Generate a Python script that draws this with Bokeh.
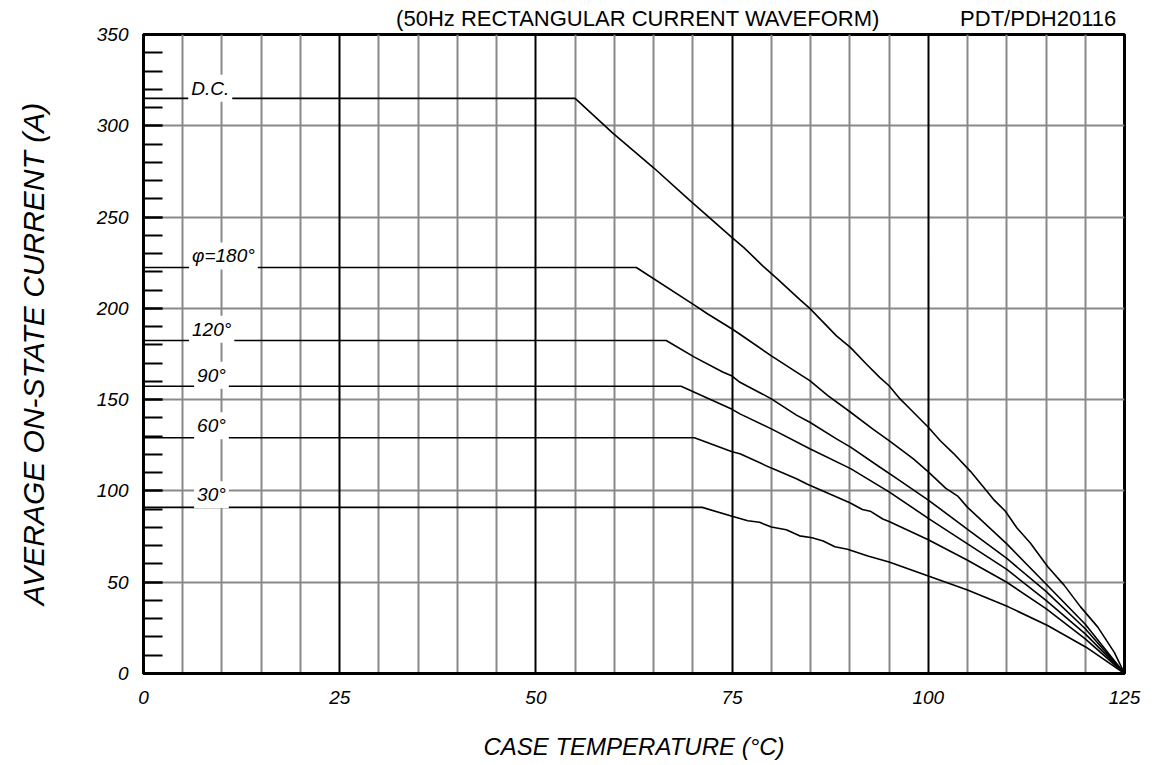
from bokeh.plotting import figure
from bokeh.models import FixedTicker, SingleIntervalTicker, Grid, Label, Range1d, LinearAxis
from bokeh.embed import file_html
from bokeh.resources import INLINE

FONT = "Liberation Sans"

# ---- data (case temperature in °C, average on-state current in A) ----
temp_dc = [0, 55, 59.8, 65, 69.5, 75, 76.5, 78.9, 80.8, 83.6, 84.9, 88.3, 90.1, 92.1, 93.8, 95,
           96.4, 98.1, 100, 101.5, 103.2, 105.4, 108.3, 109.8, 111.3, 113, 115.2, 117.3,
           119.4, 121.6, 123.7, 125]
cur_dc = [315, 315, 296, 277, 259.6, 238.7, 233.3, 223.3, 216, 204.9, 200, 184.9, 178.5, 169.5,
          162.2, 157.6, 150.4, 143.1, 134.9, 127.6, 120.6, 110.6, 95.4, 89, 79.7, 71.5, 58.6,
          48.4, 36.5, 25.4, 11.6, 0]

temp_180 = [0, 62.8, 70.2, 71.9, 75, 76, 80, 83.6, 84.9, 87.2, 90.1, 92.9, 95, 98.1, 100,
            102.2, 103.8, 105, 110, 115, 120, 125]
cur_180 = [222.4, 222.4, 201.8, 196.9, 188.7, 185.8, 174, 164, 160.4, 152.2, 143.1, 134,
           127.6, 117.6, 110.4, 101.5, 97, 91, 71, 49, 27, 0]

temp_120 = [0, 66.6, 70.2, 73.8, 75, 76, 78.9, 80, 83.2, 84.9, 88.3, 90.1, 93.8, 96, 100,
            105, 110, 115, 120, 125]
cur_120 = [182.4, 182.4, 173.3, 165.1, 162.9, 159.5, 153, 150.4, 141.5, 137.6, 128.5, 124,
           113.1, 106.7, 95, 79, 63, 45, 24.5, 0]

temp_90 = [0, 68.5, 75, 76, 80, 84.9, 90.1, 95, 100, 105, 110, 115, 120, 125]
cur_90 = [157.3, 157.3, 144.7, 142.2, 134, 123.1, 112.2, 99.5, 85, 71, 57, 40, 21.7, 0]

temp_60 = [0, 70.2, 75, 76, 80, 83.2, 84.6, 90, 91.6, 92.6, 94.2, 95, 100, 105, 110, 115,
           120, 125]
cur_60 = [129.1, 129.1, 121.5, 120.4, 112.5, 106.7, 103.7, 93.5, 89.8, 88.9, 84.6, 83.3,
          73.3, 62, 50, 35.5, 19, 0]

temp_30 = [0, 71.2, 75, 77, 78.5, 80, 81.9, 83.6, 85.2, 86.6, 88.1, 89.7, 92.3, 95, 100,
           105, 110.2, 115.2, 120.1, 125]
cur_30 = [91, 91, 86.1, 83.7, 82.8, 80.2, 78.7, 75.4, 74.4, 72.6, 69.4, 68.1, 64.4, 61.1,
          53.4, 45.7, 36.5, 26.3, 14.4, 0]

series = [(temp_dc, cur_dc), (temp_180, cur_180), (temp_120, cur_120),
          (temp_90, cur_90), (temp_60, cur_60), (temp_30, cur_30)]

curve_labels = ["D.C.", "φ=180°", "120°", "90°", "60°", "30°"]
label_x = [5.7, 5.8, 5.8, 6.45, 6.45, 6.45]
label_y = [320.6, 228.7, 188.6, 163.4, 135.7, 97.9]

x_ticks = [0, 25, 50, 75, 100, 125]
x_minor_grid = [5, 10, 15, 20, 30, 35, 40, 45, 55, 60, 65, 70, 80, 85, 90, 95, 105, 110, 115, 120]
x_major_grid = [25, 50, 75, 100]
y_grid = [50, 100, 150, 200, 250, 300]

header_pos = [63, 114]
header_text = ["(50Hz RECTANGULAR CURRENT WAVEFORM)", "PDT/PDH20116"]

GRAY = "#898989"

p = figure(frame_width=981, frame_height=639,
           min_border_left=143, min_border_right=20, min_border_top=34, min_border_bottom=80,
           x_range=Range1d(0, 125), y_range=Range1d(0, 350),
           output_backend="svg", toolbar_location=None,
           background_fill_color="white", border_fill_color="white")

p.outline_line_color = "black"
p.outline_line_width = 3
p.outline_line_alpha = 1.0

# grids
p.xgrid.ticker = FixedTicker(ticks=x_minor_grid)
p.xgrid.grid_line_color = GRAY
p.xgrid.grid_line_width = 2
p.ygrid.ticker = FixedTicker(ticks=y_grid)
p.ygrid.grid_line_color = GRAY
p.ygrid.grid_line_width = 2
p.add_layout(Grid(dimension=0, ticker=FixedTicker(ticks=x_major_grid),
                  grid_line_color="black", grid_line_width=2))

# axes
xa = p.xaxis[0]
xa.ticker = FixedTicker(ticks=x_ticks, minor_ticks=[])
xa.major_tick_in = 0
xa.major_tick_out = 0
xa.minor_tick_in = 0
xa.minor_tick_out = 0
xa.axis_line_width = 3
xa.axis_line_color = "black"
xa.major_label_text_font = FONT
xa.major_label_text_font_style = "italic"
xa.major_label_text_font_size = "19px"
xa.major_label_text_color = "black"
xa.major_label_standoff = 17
xa.axis_label = "CASE TEMPERATURE (°C)"
xa.axis_label_text_font = FONT
xa.axis_label_text_font_style = "italic"
xa.axis_label_text_font_size = "24px"
xa.axis_label_text_color = "black"
xa.axis_label_standoff = 26

ya = p.yaxis[0]
ya.ticker = SingleIntervalTicker(interval=50, num_minor_ticks=5)
ya.major_tick_in = 19
ya.major_tick_out = 0
ya.minor_tick_in = 19
ya.minor_tick_out = 0
ya.major_tick_line_width = 2
ya.minor_tick_line_width = 2
ya.major_tick_line_color = "black"
ya.minor_tick_line_color = "black"
ya.axis_line_width = 3
ya.axis_line_color = "black"
ya.major_label_text_font = FONT
ya.major_label_text_font_style = "italic"
ya.major_label_text_font_size = "19px"
ya.major_label_text_color = "black"
ya.major_label_standoff = 15
ya.axis_label = "AVERAGE ON-STATE CURRENT (A)"
ya.axis_label_text_font = FONT
ya.axis_label_text_font_style = "italic"
ya.axis_label_text_font_size = "30px"
ya.axis_label_text_color = "black"
ya.axis_label_standoff = 44

# header texts as a bare top axis
top = LinearAxis(ticker=FixedTicker(ticks=header_pos, minor_ticks=[]),
                 major_label_overrides=dict(zip(header_pos, header_text)),
                 axis_line_color=None, major_tick_line_color=None, minor_tick_line_color=None,
                 major_tick_in=0, major_tick_out=0, minor_tick_in=0, minor_tick_out=0,
                 major_label_standoff=4, major_label_text_font=FONT,
                 major_label_text_font_size="22px", major_label_text_color="black")
p.add_layout(top, "above")

# curves
for t, a in series:
    p.line(t, a, line_color="black", line_width=1.6)

# curve labels
for txt, lx, ly in zip(curve_labels, label_x, label_y):
    p.add_layout(Label(x=lx, y=ly, text=txt, text_font=FONT, text_font_style="italic",
                       text_font_size="19px", text_color="black", text_baseline="middle",
                       background_fill_color="white", padding=3))

open("out.html", "w").write(file_html(p, INLINE))
